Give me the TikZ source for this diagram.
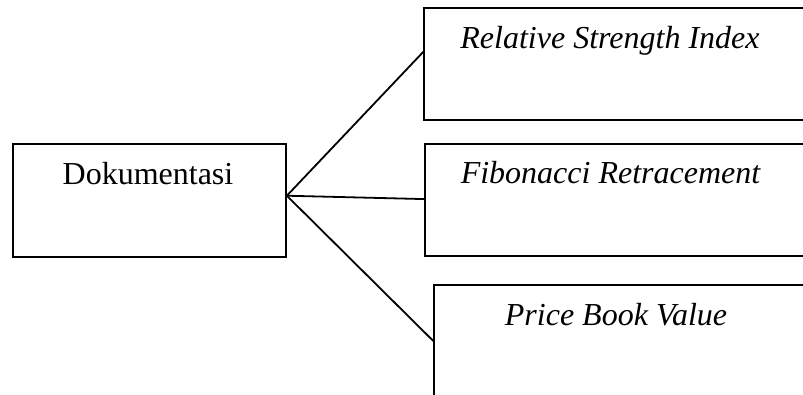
\documentclass[tikz,border=0pt]{standalone}
\usepackage{fontspec}
\setmainfont{Liberation Serif}
\usetikzlibrary{calc}
\begin{document}
\begin{tikzpicture}[x=1pt,y=-1pt,
  box/.style={draw,line width=1.8pt,rectangle,inner sep=0pt},
  lbl/.style={anchor=base,inner sep=0pt,font=\fontsize{32}{38}\selectfont},
  conn/.style={line width=1.8pt}]
\useasboundingbox (0,0) rectangle (803,394);
\clip (0,0) rectangle (803,394);
% boxes
\node[box,minimum width=273.3pt,minimum height=112.7pt] (dok) at (149.3,200.3) {};
\node[box,minimum width=420pt,minimum height=111.7pt] (rsi) at (634.3,64.2) {};
\node[box,minimum width=420pt,minimum height=111.7pt] (fib) at (634.7,200.2) {};
\node[box,minimum width=420pt,minimum height=140pt] (pbv) at (644.3,355) {};
% labels
\node[lbl] (tdok) at (148,184) {Dokumentasi};
\node[lbl] (trsi) at (610,48) {\itshape Relative Strength Index};
\node[lbl] (tfib) at (610.5,183) {\itshape Fibonacci Retracement};
\node[lbl] (tpbv) at (616,325) {\itshape Price Book Value};
% connector points
\coordinate (j) at ($(dok.north east)!0.46!(dok.south east)$);
\coordinate (erra) at ($(rsi.north west)!0.39!(rsi.south west)$);
\coordinate (efib) at ($(fib.north west)!0.49!(fib.south west)$);
\coordinate (epbv) at ($(pbv.north west)+(0,57)$);
\draw[conn] (j) -- (erra);
\draw[conn] (j) -- (efib);
\draw[conn] (j) -- (epbv);
\end{tikzpicture}
\end{document}
